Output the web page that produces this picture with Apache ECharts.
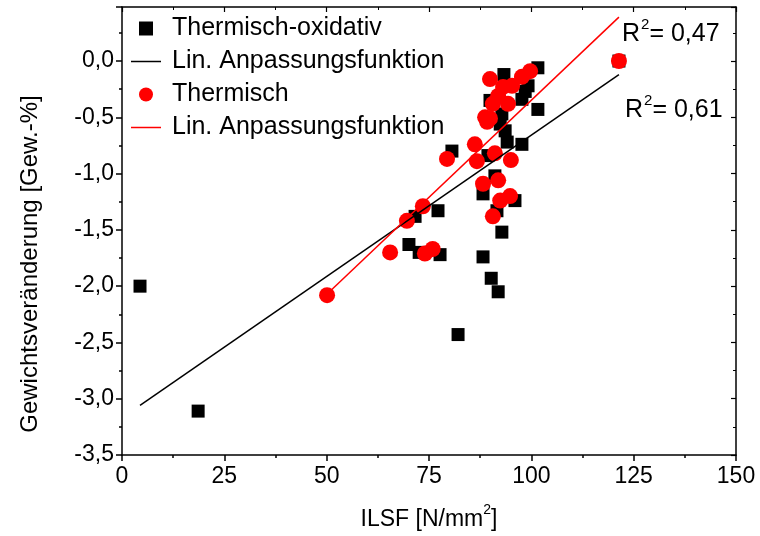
<!DOCTYPE html>
<html>
<head>
<meta charset="utf-8">
<script src="https://cdn.jsdelivr.net/npm/echarts@6/dist/echarts.min.js"></script>
<style>html,body{margin:0;padding:0;background:#fff}#c{width:760px;height:536px}</style>
</head>
<body>
<div id="c"></div>
<script>
// Thermisch-oxidativ (black squares)
const oxX = [4.4, 18.6, 70.1, 72.6, 77.7, 77.2, 71.6, 80.6, 82.1, 88.2, 90.2, 91.9, 92.8, 91.6, 96.0, 88.2, 91.1, 89.4, 93.6, 94.1, 97.7, 93.3, 101.6, 99.2, 98.5, 101.6, 89.9, 92.8, 97.7, 92.4, 121.4];
const oxY = [-2.0, -3.11, -1.63, -1.70, -1.72, -1.33, -1.38, -0.80, -2.43, -1.74, -1.93, -2.05, -1.52, -1.33, -1.24, -1.18, -1.02, -0.84, -0.62, -0.72, -0.74, -0.12, -0.06, -0.22, -0.27, -0.43, -0.35, -0.47, -0.34, -0.56, 0.0];
// Thermisch (red circles)
const thX = [50.1, 65.5, 69.6, 73.5, 74.0, 75.9, 79.4, 86.2, 86.7, 88.7, 89.9, 89.2, 88.2, 91.9, 91.1, 95.0, 90.6, 92.4, 94.8, 89.9, 93.1, 95.3, 97.7, 99.7, 91.9, 90.6, 94.3, 121.4];
const thY = [-2.08, -1.70, -1.42, -1.29, -1.71, -1.67, -0.87, -0.74, -0.89, -0.50, -0.51, -0.54, -1.09, -1.06, -0.82, -0.88, -1.38, -1.24, -1.20, -0.16, -0.23, -0.22, -0.14, -0.09, -0.31, -0.38, -0.38, 0.0];
// Fit line endpoints
const fitOxX = [4.4, 121.4];
const fitOxY = [-3.06, -0.12];
const fitThX = [50.1, 121.4];
const fitThY = [-2.07, 0.39];
// Axis ticks
const xTicks = [0, 25, 50, 75, 100, 125, 150];
const yTicks = [-3.5, -3.0, -2.5, -2.0, -1.5, -1.0, -0.5, 0.0];
const r2Th = ['R', '2', '= 0,47'];
const r2Ox = ['R', '2', '= 0,61'];

const zip = (a, b) => a.map((v, i) => [v, b[i]]);
const FONT = '"Liberation Sans", Arial, sans-serif';
const LINE_ICON = 'path://M0,0 L24,0 L24,1.2 L0,1.2 Z';
const SQUARE_ICON = 'path://M0,0 L1,0 L1,1 L0,1 Z';

const rich = (color) => ({
  a: {fontFamily: FONT, fontSize: 25, color: color, lineHeight: 30, verticalAlign: 'bottom'},
  s: {fontFamily: FONT, fontSize: 15, color: color, lineHeight: 30, verticalAlign: 'top', padding: [0, 0, 0, 1]}
});

const chart = echarts.init(document.getElementById('c'), null, {renderer: 'canvas'});
const axisLine = {show: true, onZero: false, lineStyle: {color: '#000', width: 1.5}};
chart.setOption({
  animation: false,
  backgroundColor: '#fff',
  grid: {left: 122, right: 24, top: 7, bottom: 79, containLabel: false},
  legend: {
    orient: 'vertical', left: 126, top: 11,
    itemWidth: 30, itemHeight: 14, itemGap: 8,
    symbolKeepAspect: true,
    textStyle: {fontFamily: FONT, fontSize: 25, color: '#000', lineHeight: 24, padding: [0, 0, 0, 6]},
    data: [
      {name: 'Thermisch-oxidativ', icon: SQUARE_ICON, itemStyle: {color: '#000'}},
      {name: 'Lin. Anpassungsfunktion', icon: LINE_ICON, itemStyle: {color: '#000'}},
      {name: 'Thermisch', icon: 'circle', itemStyle: {color: '#ff0000'}},
      {name: 'Lin. Anpassungsfunktion ', icon: LINE_ICON, itemStyle: {color: '#ff0000'}}
    ]
  },
  xAxis: [{
    type: 'value', min: xTicks[0], max: xTicks[xTicks.length - 1], interval: 25,
    name: '{a|ILSF [N/mm}{s|2}{a|]}', nameLocation: 'middle', nameGap: 48,
    nameTextStyle: {fontFamily: FONT, fontSize: 23, color: '#000', rich: {
      a: {fontFamily: FONT, fontSize: 23, color: '#000', lineHeight: 28, verticalAlign: 'bottom'},
      s: {fontFamily: FONT, fontSize: 14, color: '#000', lineHeight: 28, verticalAlign: 'top'}
    }},
    axisLine: axisLine,
    axisTick: {show: true, inside: false, length: 6, lineStyle: {color: '#000', width: 1.5}},
    minorTick: {show: true, splitNumber: 2, length: 3, lineStyle: {color: '#000', width: 1.5}},
    axisLabel: {fontFamily: FONT, fontSize: 23, color: '#000', margin: 10},
    splitLine: {show: false}
  }, {
    type: 'value', position: 'top', min: xTicks[0], max: xTicks[xTicks.length - 1], interval: 25,
    axisLine: axisLine,
    axisTick: {show: true, inside: true, length: 5, lineStyle: {color: '#000', width: 1.2}},
    minorTick: {show: true, splitNumber: 2, length: 3, lineStyle: {color: '#000', width: 1}},
    axisLabel: {show: false}, splitLine: {show: false}
  }],
  yAxis: [{
    type: 'value', min: yTicks[0], max: 0.48, interval: 0.5,
    name: 'Gewichtsveränderung [Gew.-%]', nameLocation: 'middle', nameGap: 80, nameRotate: 90,
    nameTextStyle: {fontFamily: FONT, fontSize: 24, color: '#000', padding: [0, 66, 0, 0]},
    axisLine: axisLine,
    axisTick: {show: true, inside: false, length: 6, lineStyle: {color: '#000', width: 1.5}},
    minorTick: {show: true, splitNumber: 2, length: 3, lineStyle: {color: '#000', width: 1.5}},
    axisLabel: {fontFamily: FONT, fontSize: 23, color: '#000', margin: 8, showMaxLabel: false,
      formatter: v => v.toFixed(1).replace('.', ',')},
    splitLine: {show: false}
  }, {
    type: 'value', position: 'right', min: yTicks[0], max: 0.48, interval: 0.5,
    axisLine: axisLine,
    axisTick: {show: true, inside: true, length: 5, lineStyle: {color: '#000', width: 1.2}},
    minorTick: {show: true, splitNumber: 2, length: 3, lineStyle: {color: '#000', width: 1}},
    axisLabel: {show: false}, splitLine: {show: false}
  }],
  series: [
    {name: 'Thermisch-oxidativ', type: 'scatter', symbol: 'rect', symbolSize: 13,
     itemStyle: {color: '#000', opacity: 1}, data: zip(oxX, oxY)},
    {name: 'Lin. Anpassungsfunktion', type: 'line', symbol: 'none', showSymbol: false,
     lineStyle: {color: '#000', width: 1.5}, itemStyle: {color: '#000'}, data: zip(fitOxX, fitOxY)},
    {name: 'Thermisch', type: 'scatter', symbol: 'circle', symbolSize: 16,
     itemStyle: {color: '#ff0000', opacity: 1}, data: zip(thX, thY)},
    {name: 'Lin. Anpassungsfunktion ', type: 'line', symbol: 'none', showSymbol: false,
     lineStyle: {color: '#ff0000', width: 1.5}, itemStyle: {color: '#ff0000'}, data: zip(fitThX, fitThY)}
  ],
  graphic: [
    {type: 'text', left: 622, top: 17, style: {text: '{a|' + r2Th[0] + '}{s|' + r2Th[1] + '}{a|' + r2Th[2] + '}', rich: rich('#ff0000')}},
    {type: 'text', left: 625, top: 93, style: {text: '{a|' + r2Ox[0] + '}{s|' + r2Ox[1] + '}{a|' + r2Ox[2] + '}', rich: rich('#000')}}
  ]
});
</script>
</body>
</html>
